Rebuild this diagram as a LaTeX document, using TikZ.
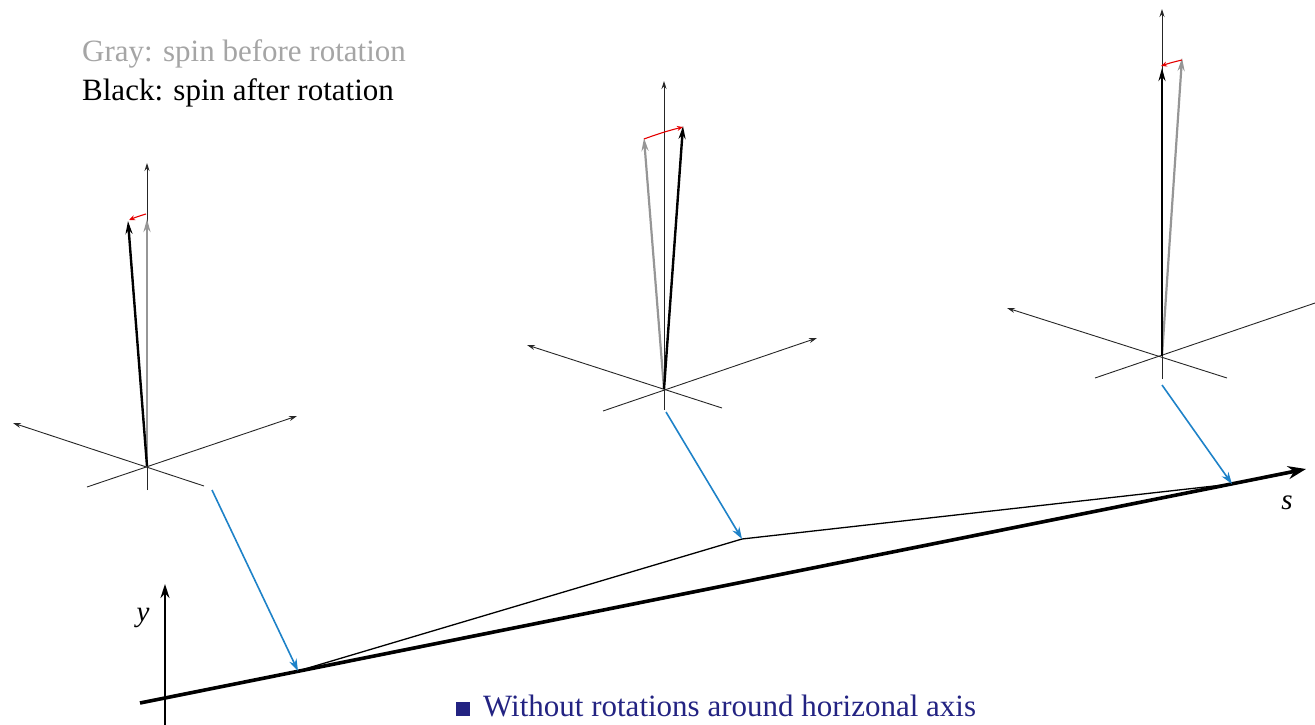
\documentclass[tikz,border=0pt]{standalone}
\usepackage{fontspec}
\setmainfont{Liberation Serif}
\usetikzlibrary{arrows.meta}
\definecolor{spingray}{RGB}{150,150,150}
\definecolor{legendgray}{RGB}{165,165,165}
\definecolor{blueline}{RGB}{30,130,200}
\definecolor{navy}{RGB}{35,35,130}
\tikzset{
  axis3d/.style={line width=0.9pt, black!85, -{Stealth[length=8pt,width=5pt]}},
  axisplain/.style={line width=0.9pt, black!85},
  spinafter/.style={line width=2.4pt, black, -{Stealth[length=13pt,width=7pt]}},
  spinbefore/.style={line width=2.2pt, spingray, -{Stealth[length=13pt,width=7pt]}},
  rotarrow/.style={line width=1.1pt, red!90!black, -{Stealth[length=6pt,width=5pt]}},
  mapto/.style={line width=1.6pt, blueline, -{Stealth[length=12pt,width=8pt]}},
  legend/.style={font=\fontsize{31}{36}\selectfont, anchor=base west, inner sep=0pt},
  axlabel/.style={font=\fontsize{29}{33}\selectfont\itshape, inner sep=0pt},
}
\begin{document}
\begin{tikzpicture}[x=1pt,y=-1pt]
\useasboundingbox (0,0) rectangle (1315,725);

% ---------- legend ----------
\node[legend, text=legendgray] (lg1) at (82,62) {Gray: spin before rotation};
\node[legend, text=black] (lg2) at (82,100) {Black: spin after rotation};

% ---------- frame 1 ----------
\coordinate (o1) at (147,466);
\coordinate (v1t) at (147,163);
\coordinate (v1b) at (147,490);
\coordinate (a1l) at (13,423);
\coordinate (a1lb) at (204,486);
\coordinate (a1r) at (297,416);
\coordinate (a1rb) at (87,487);
\coordinate (g1) at (147,219);
\coordinate (b1) at (128,221);
\coordinate (r1s) at (146,214);
\coordinate (r1e) at (129,220);
\draw[axis3d] (v1b) -- (v1t);
\draw[axis3d] (a1lb) -- (a1l);
\draw[axis3d] (a1rb) -- (a1r);
\draw[spinbefore] (o1) -- (g1);
\draw[spinafter] (o1) -- (b1);
\draw[rotarrow] (r1s) to[bend right=3] (r1e);

% ---------- frame 2 ----------
\coordinate (o2) at (664,389);
\coordinate (v2t) at (664,81);
\coordinate (v2b) at (664,410);
\coordinate (a2l) at (527,345);
\coordinate (a2lb) at (722,408);
\coordinate (a2r) at (817,338);
\coordinate (a2rb) at (603,411);
\coordinate (g2) at (644,138);
\coordinate (b2) at (683,126);
\coordinate (r2s) at (644,139);
\coordinate (r2e) at (683,127);
\draw[axis3d] (v2b) -- (v2t);
\draw[axis3d] (a2lb) -- (a2l);
\draw[axis3d] (a2rb) -- (a2r);
\draw[spinbefore] (o2) -- (g2);
\draw[spinafter] (o2) -- (b2);
\draw[rotarrow] (r2s) to[bend left=3] (r2e);

% ---------- frame 3 ----------
\coordinate (o3) at (1162,356);
\coordinate (v3t) at (1162,9);
\coordinate (v3b) at (1162,379);
\coordinate (a3l) at (1007,308);
\coordinate (a3lb) at (1227,378);
\coordinate (a3r) at (1318,302);
\coordinate (a3rb) at (1095,378);
\coordinate (g3) at (1182,58);
\coordinate (b3) at (1162,68);
\coordinate (r3s) at (1182,60);
\coordinate (r3e) at (1161,66);
\draw[axis3d] (v3b) -- (v3t);
\draw[axis3d] (a3lb) -- (a3l);
\draw[axisplain] (a3rb) -- (a3r);
\draw[spinbefore] (o3) -- (g3);
\draw[spinafter] (o3) -- (b3);
\draw[rotarrow] (r3s) to[bend right=3] (r3e);

% ---------- bottom plot ----------
\coordinate (yb) at (165,725);
\coordinate (yt) at (165,584);
\coordinate (sl) at (140,703);
\coordinate (st) at (1306,469);
\coordinate (p1) at (298,671);
\coordinate (p2) at (742,539);
\coordinate (p3) at (1232,484);
\draw[line width=1.6pt, -{Stealth[length=14pt,width=9pt]}] (yb) -- (yt);
\node[axlabel] (ylab) at (143,618) {y};
\draw[line width=3.6pt, -{Stealth[length=18pt,width=13pt]}] (sl) -- (st);
\node[axlabel] (slab) at (1287,503) {s};
\draw[line width=1.3pt] (p1) -- (p2) -- (p3);

% ---------- mapping arrows ----------
\coordinate (m1) at (212,490);
\coordinate (m2) at (666,412);
\coordinate (m3) at (1162,385);
\draw[mapto] (m1) -- (p1);
\draw[mapto] (m2) -- (p2);
\draw[mapto] (m3) -- (p3);

% ---------- caption ----------
\node[inner sep=0pt, fill=navy, minimum size=14pt, anchor=south west] (sq) at (456,716) {};
\node[legend, text=navy] (cap) at (483,716) {Without rotations around horizonal axis};
\end{tikzpicture}
\end{document}
